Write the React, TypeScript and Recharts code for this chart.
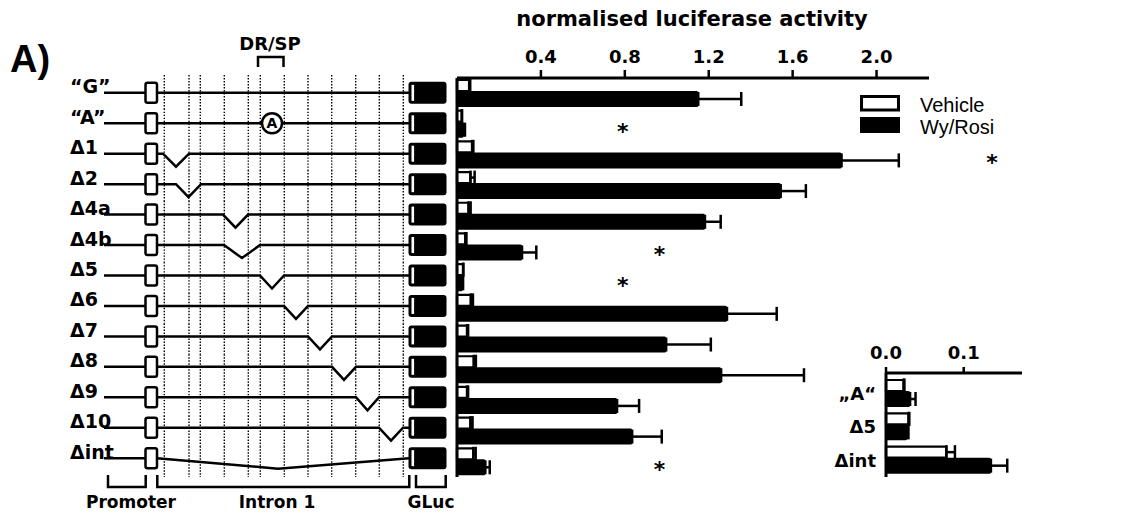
import React from 'react';
import { BarChart, Bar, XAxis, YAxis, ErrorBar, Legend, ReferenceDot } from 'recharts';

const constructs = ['“G”', '“A”', 'Δ1', 'Δ2', 'Δ4a', 'Δ4b', 'Δ5', 'Δ6', 'Δ7', 'Δ8', 'Δ9', 'Δ10', 'Δint'];
const vehicle = [0.058, 0.023, 0.072, 0.064, 0.055, 0.04, 0.029, 0.066, 0.048, 0.08, 0.048, 0.064, 0.078];
const vehicleErr = [0.005, 0.001, 0.006, 0.02, 0.01, 0.005, 0.001, 0.01, 0.005, 0.01, 0.005, 0.01, 0.011];
const wyRosi = [1.15, 0.031, 1.833, 1.543, 1.182, 0.31, 0.027, 1.287, 0.997, 1.259, 0.763, 0.835, 0.135];
const wyRosiErr = [0.205, 0.007, 0.273, 0.12, 0.075, 0.068, 0.002, 0.237, 0.213, 0.395, 0.105, 0.141, 0.021];
const mainTicks = [0.4, 0.8, 1.2, 1.6, 2.0];

const starRows = ['“A”', 'Δ1', 'Δ4b', 'Δ5', 'Δint'];
const starX = [0.79, 2.55, 0.965, 0.79, 0.965];

const insetConstructs = ['„A“', 'Δ5', 'Δint'];
const insetVehicle = [0.0227, 0.029, 0.0777];
const insetVehicleErr = [0.001, 0.001, 0.011];
const insetWy = [0.031, 0.0269, 0.135];
const insetWyErr = [0.007, 0.002, 0.021];
const insetTicks = [0, 0.1];

const mainData = constructs.map((name, i) => ({
  name,
  vehicle: vehicle[i],
  vehicleErr: [0, vehicleErr[i]],
  wy: wyRosi[i],
  wyErr: [0, wyRosiErr[i]],
}));

const insetData = insetConstructs.map((name, i) => ({
  name,
  vehicle: insetVehicle[i],
  vehicleErr: [0, insetVehicleErr[i]],
  wy: insetWy[i],
  wyErr: [0, insetWyErr[i]],
}));

const BOLD = 'DejaVu Sans, Verdana, sans-serif';
const ARIAL = 'Liberation Sans, Arial, sans-serif';

// schematic geometry (page pixels)
const DOTS = [164.3, 189, 200.3, 224.3, 248.3, 260.3, 284.3, 308, 331.7, 355.7, 379.3, 403.3];
const deletions: Record<string, [number, number]> = {
  'Δ1': [163, 189],
  'Δ2': [176, 201],
  'Δ4a': [223, 248],
  'Δ4b': [224, 260],
  'Δ5': [260, 284],
  'Δ6': [284, 308],
  'Δ7': [308, 332],
  'Δ8': [332, 356],
  'Δ9': [356, 379],
  'Δ10': [379, 403],
};
const BAND = 399 / 13;

function ConstructTick(props: any) {
  const { y, payload, index } = props;
  const name = payload.value as string;
  const ly = y - 0.5 - index * 0.25;
  const top = index === 0 ? 75 : y - BAND / 2;
  const bottom = index === constructs.length - 1 ? 477 : y + BAND / 2;
  const del = deletions[name];
  let d = `M157 ${ly} H409`;
  if (name === 'Δint') d = `M157 ${ly} L278 ${ly + 10.5} L409 ${ly}`;
  else if (del) d = `M157 ${ly} H${del[0]} L${(del[0] + del[1]) / 2} ${ly + 13} L${del[1]} ${ly} H409`;
  return (
    <g>
      {DOTS.map(x => (
        <line key={x} x1={x} x2={x} y1={top} y2={bottom} stroke="#000" strokeWidth={1.4} strokeDasharray="1.4 1.6" />
      ))}
      <text x={70} y={ly + 0.5} fontSize={19} fontWeight="bold" fontFamily={BOLD} fill="#000">{name}</text>
      <line x1={104} x2={146} y1={ly} y2={ly} stroke="#000" strokeWidth={2.5} />
      <path d={d} fill="none" stroke="#000" strokeWidth={2.5} />
      <rect x={145.5} y={ly - 10} width={11.5} height={20} rx={2} fill="#fff" stroke="#000" strokeWidth={2.5} />
      {name === '“A”' && (
        <g>
          <circle cx={272} cy={ly} r={10} fill="#fff" stroke="#000" strokeWidth={2.5} />
          <text x={272} y={ly + 5} textAnchor="middle" fontSize={14} fontWeight="bold" fontFamily={BOLD} fill="#000">A</text>
        </g>
      )}
      <rect x={408.5} y={ly - 11} width={38} height={22} rx={3} fill="#000" />
      <rect x={411.5} y={ly - 8} width={2.6} height={16} fill="#fff" />
    </g>
  );
}

const legendFill: Record<string, string> = { vehicle: '#fff', wy: '#000' };

function LegendBox(props: any) {
  const items = props.payload ?? [];
  return (
    <svg width={180} height={60}>
      {items.map((it: any, i: number) => (
        <g key={String(it.value)}>
          {legendFill[it.dataKey] === '#fff' ? (
            <rect x={1.5} y={6.5 + i * 22} width={37} height={13.5} fill="#fff" stroke="#000" strokeWidth={3} />
          ) : (
            <rect x={0} y={5 + i * 22} width={40} height={16} fill="#000" />
          )}
          <text x={60} y={21.5 + i * 22.5} fontSize={20} fontFamily={ARIAL} fill="#000">{it.value}</text>
        </g>
      ))}
    </svg>
  );
}

const Star = (p: any) => (
  <text x={p.cx} y={p.cy + 15} textAnchor="middle" fontSize={22} fontWeight="bold" fontFamily={BOLD} fill="#000">*</text>
);

const axisStyle = { stroke: '#000', strokeWidth: 3 };
const tickStyle = { fill: '#000', fontSize: 18, fontWeight: 700, fontFamily: BOLD };

export default function App() {
  return (
    <div style={{ position: 'absolute', left: 0, top: 0, width: 1132, height: 515, background: '#fff' }}>
      <div style={{ position: 'absolute', left: 0, top: 0 }}>
        <BarChart
          width={1132}
          height={515}
          data={mainData}
          layout="vertical"
          margin={{ top: 0, right: 203, bottom: 38, left: 0 }}
          barGap={0}
        >
          <XAxis
            type="number"
            orientation="top"
            domain={[0, 2.25]}
            ticks={mainTicks}
            tickFormatter={(v: number) => v.toFixed(1)}
            height={78}
            axisLine={axisStyle}
            tickLine={{ stroke: '#000', strokeWidth: 2.5 }}
            tickSize={8}
            tickMargin={7}
            tick={tickStyle}
          />
          <YAxis
            type="category"
            dataKey="name"
            width={457}
            interval={0}
            axisLine={axisStyle}
            tickLine={false}
            tick={<ConstructTick />}
          />
          <Legend
            verticalAlign="middle"
            align="center"
            layout="horizontal"
            wrapperStyle={{ left: 860, top: 90, right: 'auto', bottom: 'auto', width: 180, height: 60 }}
            content={<LegendBox />}
          />
          <Bar dataKey="vehicle" name="Vehicle" fill="#fff" stroke="#000" strokeWidth={2.2} barSize={11} isAnimationActive={false}>
            <ErrorBar dataKey="vehicleErr" direction="x" width={7} stroke="#000" strokeWidth={2.5} />
          </Bar>
          <Bar dataKey="wy" name="Wy/Rosi" fill="#000" barSize={16} radius={1.5} isAnimationActive={false}>
            <ErrorBar dataKey="wyErr" direction="x" width={7} stroke="#000" strokeWidth={2.5} />
          </Bar>
          {starRows.map((row, i) => (
            <ReferenceDot key={row} x={starX[i]} y={row} r={0} ifOverflow="visible" shape={<Star />} />
          ))}
        </BarChart>
      </div>

      <div style={{ position: 'absolute', left: 780, top: 330 }}>
        <BarChart
          width={260}
          height={160}
          data={insetData}
          layout="vertical"
          margin={{ top: 0, right: 18, bottom: 13, left: 0 }}
          barGap={0}
        >
          <XAxis
            type="number"
            orientation="top"
            domain={[0, 0.175]}
            ticks={insetTicks}
            tickFormatter={(v: number) => v.toFixed(1)}
            height={43}
            axisLine={axisStyle}
            tickLine={{ stroke: '#000', strokeWidth: 2.5 }}
            tickSize={6}
            tickMargin={8}
            tick={tickStyle}
          />
          <YAxis
            type="category"
            dataKey="name"
            width={106}
            interval={0}
            padding={{ top: 4, bottom: 0 }}
            axisLine={axisStyle}
            tickLine={false}
            tickSize={0}
            tickMargin={10}
            tick={tickStyle}
          />
          <Bar dataKey="vehicle" fill="#fff" stroke="#000" strokeWidth={2.2} barSize={11} isAnimationActive={false}>
            <ErrorBar dataKey="vehicleErr" direction="x" width={7} stroke="#000" strokeWidth={2.5} />
          </Bar>
          <Bar dataKey="wy" fill="#000" barSize={16} radius={1.5} isAnimationActive={false}>
            <ErrorBar dataKey="wyErr" direction="x" width={7} stroke="#000" strokeWidth={2.5} />
          </Bar>
        </BarChart>
      </div>

      <svg width={1132} height={515} style={{ position: 'absolute', left: 0, top: 0, pointerEvents: 'none' }}>
        <text x={10} y={72} fontSize={38} fontWeight="bold" fontFamily={ARIAL} fill="#000">A)</text>
        <text x={692} y={26} textAnchor="middle" fontSize={21} fontWeight="bold" fontFamily={BOLD} fill="#000">
          normalised luciferase activity
        </text>
        <text x={270} y={50} textAnchor="middle" fontSize={18} fontWeight="bold" fontFamily={BOLD} fill="#000">DR/SP</text>
        <path d="M258 67 V57 H283.5 V67" fill="none" stroke="#000" strokeWidth={2.5} />
        <g fill="none" stroke="#000" strokeWidth={2.5}>
          <path d="M108 475 V487 H145.7 V475" />
          <path d="M157.3 475 V487 H409.3 V475" />
          <path d="M416 475 V487 H445.7 V475" />
        </g>
        <g fontSize={17} fontWeight="bold" fontFamily={BOLD} fill="#000" textAnchor="middle">
          <text x={131} y={508}>Promoter</text>
          <text x={277} y={508}>Intron 1</text>
          <text x={431} y={508}>GLuc</text>
        </g>
      </svg>
    </div>
  );
}
